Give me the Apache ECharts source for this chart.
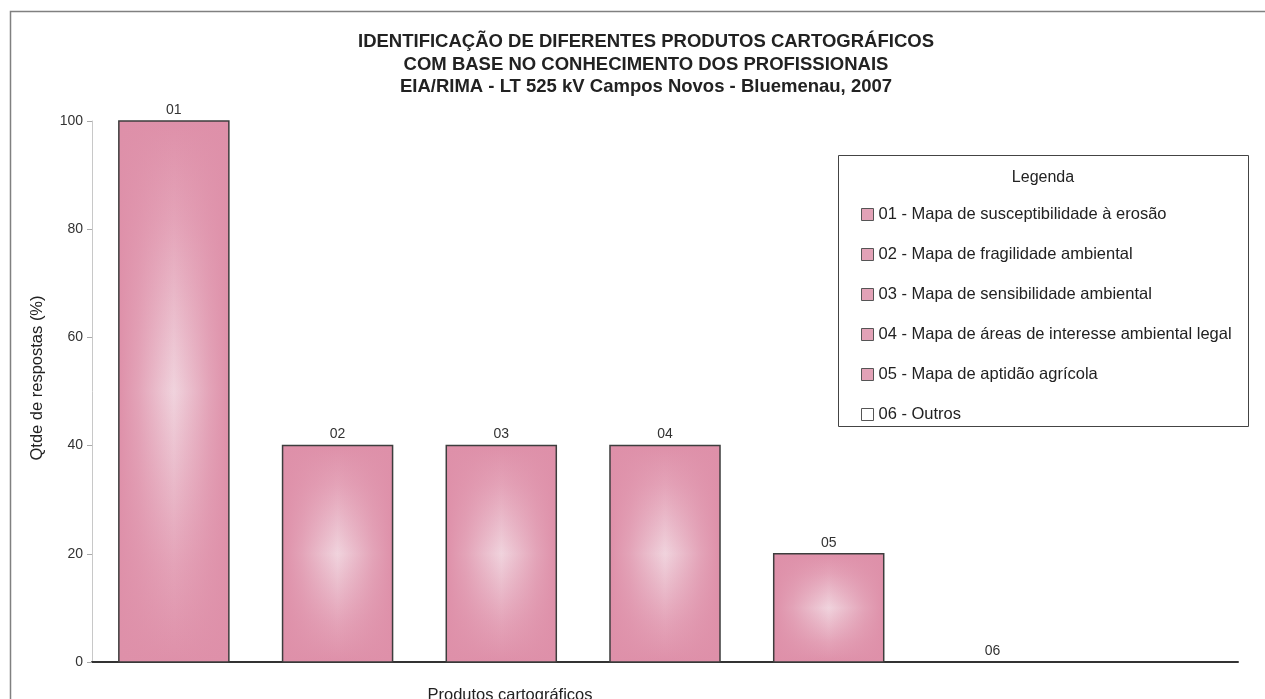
<!DOCTYPE html>
<html>
<head>
<meta charset="utf-8">
<script src="https://cdn.jsdelivr.net/npm/echarts@6/dist/echarts.min.js"></script>
<style>
  html, body { margin: 0; padding: 0; background: #ffffff; }
  #chart { width: 1265px; height: 699px; }
</style>
</head>
<body>
<div id="chart"></div>
<script>
// ---- data ----
const codes = ['01', '02', '03', '04', '05', '06'];
const values = [100, 40, 40, 40, 20, 0];
const legendNames = [
  '01 - Mapa de susceptibilidade à erosão',
  '02 - Mapa de fragilidade ambiental',
  '03 - Mapa de sensibilidade ambiental',
  '04 - Mapa de áreas de interesse ambiental legal',
  '05 - Mapa de aptidão agrícola',
  '06 - Outros'
];
const titleLines = [
  'IDENTIFICAÇÃO DE DIFERENTES PRODUTOS CARTOGRÁFICOS',
  'COM BASE NO CONHECIMENTO DOS PROFISSIONAIS',
  'EIA/RIMA - LT 525 kV Campos Novos - Bluemenau, 2007'
];
const yMin = 0, yMax = 100, yInterval = 20;
const xName = 'Produtos cartográficos';
const yName = 'Qtde de respostas (%)';
const legendTitle = 'Legenda';

// ---- style ----
const FONT = "'Liberation Sans', Arial, sans-serif";
const PINK = '#de90a9';
const PINK_MID = '#e4a3b8';
const LIGHT = '#f0d3dd';

const chart = echarts.init(document.getElementById('chart'), null, { renderer: 'canvas' });

function renderBar(params, api) {
  const idx = api.value(0);
  const val = api.value(1);
  const top = api.coord([idx, val]);
  const base = api.coord([idx, 0]);
  const bw = api.size([1, 0])[0] * 0.672;
  const x0 = top[0] - bw / 2;
  const h = base[1] - top[1];
  const children = [];
  if (h > 0.5) {
    const shape = { x: x0, y: top[1], width: bw, height: h };
    children.push({
      type: 'rect', shape: shape,
      style: {
        fill: new echarts.graphic.LinearGradient(0, 0, 0, 1, [
          { offset: 0, color: PINK },
          { offset: 0.18, color: PINK_MID },
          { offset: 0.5, color: LIGHT },
          { offset: 0.82, color: PINK_MID },
          { offset: 1, color: PINK }
        ])
      }
    });
    children.push({
      type: 'rect', shape: shape,
      style: {
        fill: new echarts.graphic.LinearGradient(0, 0, 1, 0, [
          { offset: 0, color: 'rgba(222,144,169,1)' },
          { offset: 0.18, color: 'rgba(222,144,169,0.7)' },
          { offset: 0.5, color: 'rgba(222,144,169,0)' },
          { offset: 0.82, color: 'rgba(222,144,169,0.7)' },
          { offset: 1, color: 'rgba(222,144,169,1)' }
        ])
      }
    });
    children.push({
      type: 'rect', shape: shape,
      style: { fill: 'none', stroke: '#3d3d3d', lineWidth: 1.5 }
    });
  }
  children.push({
    type: 'text',
    style: {
      text: codes[idx],
      x: top[0], y: top[1] - 11,
      align: 'center', verticalAlign: 'middle',
      font: '14px ' + FONT, fill: '#333'
    }
  });
  return { type: 'group', children: children };
}

const series = codes.map(function (c, i) {
  return {
    name: legendNames[i],
    type: 'custom',
    renderItem: renderBar,
    encode: { x: 0, y: 1 },
    itemStyle: { color: i < 5 ? '#e2a2b7' : '#ffffff', borderColor: '#555', borderWidth: 1 },
    data: [[i, values[i]]],
    z: 3
  };
});

const option = {
  backgroundColor: '#ffffff',
  animation: false,
  title: [
    {
      text: titleLines.join('\n'),
      left: 641, top: 26, textAlign: 'center',
      textStyle: { fontFamily: FONT, fontSize: 18.5, fontWeight: 'bold', color: '#222', lineHeight: 22.5 }
    },
    {
      text: xName,
      left: 505, top: 682, textAlign: 'center',
      textStyle: { fontFamily: FONT, fontSize: 16.5, fontWeight: 'normal', color: '#222' }
    }
  ],
  legend: {
    orient: 'vertical',
    left: 861, top: 206,
    padding: 0,
    itemWidth: 12, itemHeight: 12, itemGap: 23,
    selectedMode: false,
    icon: 'rect',
    textStyle: { fontFamily: FONT, fontSize: 16.5, color: '#222', lineHeight: 16 },
    data: legendNames.map(function (n, i) {
      return {
        name: n,
        itemStyle: { color: i < 5 ? '#e2a2b7' : '#ffffff', borderColor: '#555', borderWidth: 1 }
      };
    })
  },
  grid: { left: 92, right: 27, top: 121, bottom: 37, containLabel: false },
  xAxis: {
    type: 'category',
    data: codes,
    max: codes.length,
    boundaryGap: true,
    axisLine: { show: true, lineStyle: { color: '#333', width: 2 } },
    axisTick: { show: false },
    axisLabel: { show: false },
    splitLine: { show: false }
  },
  yAxis: {
    type: 'value',
    min: yMin, max: yMax, interval: yInterval,
    axisLine: { show: true, lineStyle: { color: '#c8c8c8', width: 1 } },
    axisTick: { show: true, length: 5, lineStyle: { color: '#aaa' } },
    axisLabel: { fontFamily: FONT, fontSize: 14, color: '#333', margin: 9 },
    splitLine: { show: false }
  },
  graphic: [
    {
      type: 'rect', silent: true, z: -1,
      shape: { x: 10.5, y: 11.5, width: 1400, height: 900 },
      style: { fill: 'none', stroke: '#808080', lineWidth: 1.5 }
    },
    {
      type: 'rect', silent: true,
      shape: { x: 838.5, y: 155.5, width: 410, height: 271 },
      style: { fill: 'none', stroke: '#444', lineWidth: 1 }
    },
    {
      type: 'text', silent: true,
      style: {
        text: legendTitle, x: 1043, y: 178,
        align: 'center', verticalAlign: 'middle',
        font: '16px ' + FONT, fill: '#222'
      }
    },
    {
      type: 'text', silent: true,
      rotation: Math.PI / 2,
      x: 37, y: 378,
      style: {
        text: yName, x: 0, y: 0,
        align: 'center', verticalAlign: 'middle',
        font: '16.5px ' + FONT, fill: '#222'
      }
    }
  ],
  series: series
};

chart.setOption(option);
</script>
</body>
</html>
